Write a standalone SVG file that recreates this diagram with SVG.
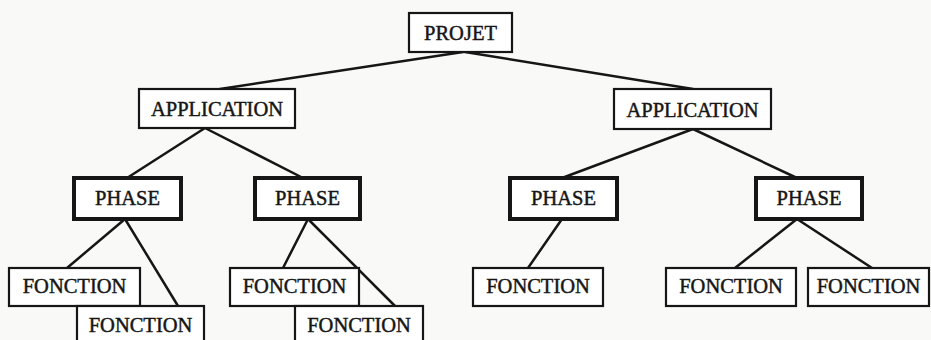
<svg xmlns="http://www.w3.org/2000/svg" width="931" height="340" viewBox="0 0 931 340">
  <style>
    .box { fill: #ffffff; stroke: #161616; stroke-width: 2.2; }
    .phase { fill: #ffffff; stroke: #161616; stroke-width: 4; }
    .lbl { font-family: "Liberation Serif", "Times New Roman", serif; font-size: 20.5px; fill: #161616; stroke: #161616; stroke-width: 0.45; text-anchor: middle; }
    .edge { stroke: #161616; stroke-width: 2.5; fill: none; stroke-linecap: round; }
  </style>
  <rect width="931" height="340" fill="#f9f9f7"/>

  <g id="connectors">
    <line class="edge" x1="463" y1="52" x2="220" y2="89"/>
    <line class="edge" x1="465" y1="52" x2="693" y2="89"/>
    <line class="edge" x1="205" y1="128" x2="127" y2="178"/>
    <line class="edge" x1="205" y1="128" x2="303" y2="178"/>
    <line class="edge" x1="693" y1="129" x2="562" y2="178"/>
    <line class="edge" x1="693" y1="129" x2="797" y2="178"/>
    <line class="edge" x1="125" y1="219" x2="67" y2="268"/>
    <line class="edge" x1="125" y1="219" x2="178" y2="306"/>
    <line class="edge" x1="308" y1="219" x2="283" y2="268"/>
    <line class="edge" x1="308" y1="219" x2="395" y2="306"/>
    <line class="edge" x1="562" y1="219" x2="528" y2="268"/>
    <line class="edge" x1="797" y1="219" x2="735" y2="268"/>
    <line class="edge" x1="797" y1="219" x2="872" y2="268"/>
  </g>

  <g id="projet">
    <rect class="box" x="409" y="13" width="103" height="39"/>
    <text class="lbl" x="460.5" y="39.5">PROJET</text>
  </g>

  <g id="application-1">
    <rect class="box" x="139" y="89" width="156" height="39"/>
    <text class="lbl" x="217" y="116">APPLICATION</text>
  </g>
  <g id="application-2">
    <rect class="box" x="614" y="89" width="157" height="40"/>
    <text class="lbl" x="692.5" y="116.5">APPLICATION</text>
  </g>

  <g id="phase-1">
    <rect class="phase" x="74" y="178" width="107" height="41"/>
    <text class="lbl" x="127.5" y="205">PHASE</text>
  </g>
  <g id="phase-2">
    <rect class="phase" x="255" y="178" width="105" height="41"/>
    <text class="lbl" x="307.5" y="205">PHASE</text>
  </g>
  <g id="phase-3">
    <rect class="phase" x="510" y="178" width="107" height="41"/>
    <text class="lbl" x="563.5" y="205">PHASE</text>
  </g>
  <g id="phase-4">
    <rect class="phase" x="756" y="178" width="106" height="41"/>
    <text class="lbl" x="809" y="205">PHASE</text>
  </g>

  <g id="fonction-1">
    <rect class="box" x="9" y="268" width="131" height="38"/>
    <text class="lbl" x="74.5" y="293">FONCTION</text>
  </g>
  <g id="fonction-2">
    <rect class="box" x="77" y="306" width="127" height="40"/>
    <text class="lbl" x="140.5" y="332">FONCTION</text>
  </g>
  <g id="fonction-3">
    <rect class="box" x="230" y="268" width="129" height="38"/>
    <text class="lbl" x="294.5" y="293">FONCTION</text>
  </g>
  <g id="fonction-4">
    <rect class="box" x="295" y="306" width="128" height="40"/>
    <text class="lbl" x="359" y="332">FONCTION</text>
  </g>
  <g id="fonction-5">
    <rect class="box" x="473" y="268" width="130" height="38"/>
    <text class="lbl" x="538" y="293">FONCTION</text>
  </g>
  <g id="fonction-6">
    <rect class="box" x="666" y="268" width="130" height="38"/>
    <text class="lbl" x="731" y="293">FONCTION</text>
  </g>
  <g id="fonction-7">
    <rect class="box" x="808" y="268" width="121" height="38"/>
    <text class="lbl" x="868.5" y="293">FONCTION</text>
  </g>
</svg>
